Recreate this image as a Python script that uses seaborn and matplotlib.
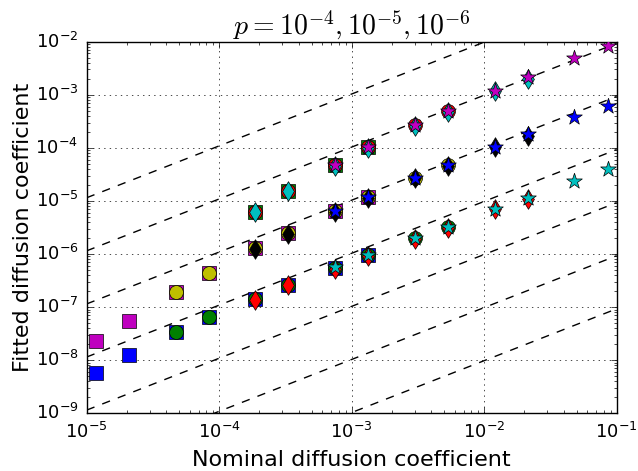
import numpy as np
import matplotlib
matplotlib.use("Agg")
import matplotlib.pyplot as plt
import seaborn as sns

# ---------------- data ----------------
x_nominal = [1.1719e-5, 2.0833e-5, 4.6875e-5, 8.3333e-5, 1.875e-4, 3.3333e-4,
             7.5e-4, 1.3333e-3, 3.0e-3, 5.3333e-3, 1.2e-2, 2.1333e-2, 4.8e-2, 8.5333e-2]

# bottom band (squares b, circles g, diamonds r, stars c)
low_sq   = [5.7e-9, 1.24e-8, 3.37e-8, 6.45e-8, 1.41e-7, 2.62e-7, 5.55e-7, 9.6e-7]
low_circ = [3.37e-8, 6.45e-8, 1.41e-7, 2.62e-7, 5.55e-7, 9.6e-7, 1.99e-6, 3.28e-6]
low_diam = [1.38e-7, 2.6e-7, 5.3e-7, 9.3e-7, 1.93e-6, 3.15e-6, 6.95e-6, 1.1e-5]
low_star = [5.6e-7, 9.7e-7, 2.0e-6, 3.3e-6, 7.06e-6, 1.15e-5, 2.38e-5, 3.95e-5]

# middle band (squares m, circles y, diamonds k, stars b)
mid_sq   = [2.34e-8, 5.5e-8, 1.96e-7, 4.34e-7, 1.28e-6, 2.47e-6, 6.49e-6, 1.2e-5]
mid_circ = [1.96e-7, 4.34e-7, 1.28e-6, 2.47e-6, 6.49e-6, 1.2e-5, 2.75e-5, 4.77e-5]
mid_diam = [1.24e-6, 2.42e-6, 6.2e-6, 1.15e-5, 2.65e-5, 4.6e-5, 1.02e-4, 1.68e-4]
mid_star = [6.5e-6, 1.2e-5, 2.75e-5, 4.8e-5, 1.05e-4, 1.8e-4, 3.87e-4, 6.24e-4]

# top band (squares g, circles r, diamonds c, stars m)
top_sq   = [6.3e-6, 1.56e-5, 4.77e-5, 1.05e-4]
top_circ = [6.3e-6, 1.56e-5, 4.77e-5, 1.05e-4, 2.7e-4, 4.95e-4]
top_diam = [6.2e-6, 1.56e-5, 4.5e-5, 1.0e-4, 2.6e-4, 4.8e-4, 1.18e-3, 2.0e-3]
top_star = [4.8e-5, 1.05e-4, 2.7e-4, 4.95e-4, 1.19e-3, 2.14e-3, 4.87e-3, 8.3e-3]

# index of the first nominal value for each series
low_start = [0, 2, 4, 6]
mid_start = [0, 2, 4, 6]
top_start = [4, 4, 4, 6]

# reference dashed lines: value at x = 1e-5 and at x = 1e-1
line_x = [1e-5, 1e-1]
line_left = [1.15e-5, 1.15e-6, 1.15e-7, 1.15e-8, 1.15e-9, 1.15e-10, 1.15e-11]
line_right = [9.3e-2, 9.3e-3, 9.3e-4, 9.3e-5, 9.3e-6, 9.3e-7, 9.3e-8]

title = r"$p=10^{-4},10^{-5},10^{-6}$"
xlabel = "Nominal diffusion coefficient"
ylabel = "Fitted diffusion coefficient"

# ---------------- style ----------------
plt.style.use("classic")
plt.rcParams["figure.facecolor"] = "white"
plt.rcParams["savefig.facecolor"] = "white"
plt.rcParams["mathtext.fontset"] = "cm"
plt.rcParams["font.family"] = ["DejaVu Sans"]

fig = plt.figure(figsize=(6.38, 4.71), dpi=100)
ax = fig.add_axes([0.1359, 0.1225, 0.9666 - 0.1359, 0.9115 - 0.1225])
ax.set_xscale("log")
ax.set_yscale("log")

for ly0, ly1 in zip(line_left, line_right):
    sns.lineplot(x=line_x, y=[ly0, ly1], ax=ax, color="k", linestyle="--",
                 linewidth=1.0, zorder=1)
for l in ax.lines:
    l.set_dashes([6, 6])

bands = [
    ([low_sq, low_circ, low_diam, low_star], ["b", "g", "r", "c"], low_start),
    ([mid_sq, mid_circ, mid_diam, mid_star], ["m", "y", "k", "b"], mid_start),
    ([top_sq, top_circ, top_diam, top_star], ["g", "r", "c", "m"], top_start),
]
markers = ["s", "o", "d", "*"]
sizes = [100, 100, 100, 140]
z = 3
for series, cols, starts in bands:
    for vals, mk, col, s0, sz in zip(series, markers, cols, starts, sizes):
        xs = x_nominal[s0:s0 + len(vals)]
        sns.scatterplot(x=xs, y=vals, ax=ax, marker=mk, color=col, s=sz,
                        edgecolor="k", linewidth=0.5, zorder=z)
        z += 1

ax.set_xlim(1e-5, 1e-1)
ax.set_ylim(1e-9, 1e-2)
ax.grid(True, which="major", color="k", linestyle=":", linewidth=0.5)
ax.tick_params(which="both", direction="in", top=True, right=True)
ax.tick_params(axis="both", which="major", labelsize=13, pad=6)
ax.set_xlabel(xlabel, fontsize=16, labelpad=6)
ax.set_ylabel(ylabel, fontsize=16, labelpad=2)
ax.set_title(title, fontsize=20, y=1.0)

fig.savefig("out.png", dpi=100)
